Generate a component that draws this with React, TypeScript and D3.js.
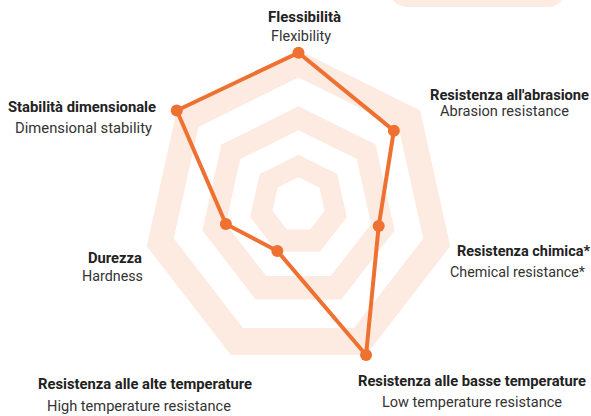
import React from "react";
import * as d3 from "d3";

// ---- data ----
const axesIt = [
  "Flessibilità",
  "Resistenza all'abrasione",
  "Resistenza chimica*",
  "Resistenza alle basse temperature",
  "Resistenza alle alte temperature",
  "Durezza",
  "Stabilità dimensionale",
];
const axesEn = [
  "Flexibility",
  "Abrasion resistance",
  "Chemical resistance*",
  "Low temperature resistance",
  "High temperature resistance",
  "Hardness",
  "Dimensional stability",
];
const values = [5.9, 4.7, 3.17, 6, 1.88, 2.87, 6];
const maxValue = 6;
const bandLevels: [number, number][] = [
  [4.93, 6],
  [2.87, 3.8],
  [1.03, 1.91],
];

// ---- layout ----
const W = 591;
const H = 416;
const CX = 298.5;
const CY0 = 203.5;
const DRIFT = 0.045;
const SY = 1.03;
const R = 155.7;
const ORANGE = "#EF7131";
const PEACH = "#FDEBE1";

// label layout: [centerX1, baseline1, width1, centerX2, baseline2, width2]
const labelLayout: [number, number, number, number, number, number][] = [
  [304.5, 22, 73, 301, 41, 60],
  [509.5, 100, 159, 504.5, 116, 129],
  [523.5, 256, 133, 517.5, 277, 135],
  [472, 386, 228, 472, 407, 180],
  [145, 389, 214, 139, 411, 184],
  [115, 263, 54, 112.5, 281, 61],
  [82, 112, 148, 83.5, 133, 137],
];

const rScale = d3.scaleLinear().domain([0, maxValue]).range([0, R]);
const angle = (i: number) => -Math.PI / 2 + (i * 2 * Math.PI) / axesIt.length;
const proj = (i: number, v: number): [number, number] => {
  const r = rScale(v);
  const a = angle(i);
  return [CX + r * Math.cos(a), CY0 + DRIFT * r + SY * r * Math.sin(a)];
};

const ringPath = (v: number) => {
  const line = d3.line<number>()
    .x((_, i) => proj(i, v)[0])
    .y((_, i) => proj(i, v)[1])
    .curve(d3.curveLinearClosed);
  return line(axesIt.map((_, i) => i)) as string;
};

export default function App() {
  const dataLine = d3
    .line<number>()
    .x((v, i) => proj(i, v)[0])
    .y((v, i) => proj(i, v)[1])
    .curve(d3.curveLinearClosed)(values) as string;

  return (
    <svg
      width={W}
      height={H}
      style={{ position: "absolute", left: 0, top: 0, background: "#fff" }}
      fontFamily="Roboto, 'Noto Sans', sans-serif"
    >
      <rect x={390} y={-25} width={175} height={32} rx={17} fill={PEACH} />
      {bandLevels.map(([a, b], k) => (
        <path key={k} d={ringPath(b) + ringPath(a)} fill={PEACH} fillRule="evenodd" />
      ))}
      <path d={dataLine} fill="none" stroke={ORANGE} strokeWidth={4} strokeLinejoin="round" />
      {values.map((v, i) => {
        const [x, y] = proj(i, v);
        return <circle key={i} cx={x} cy={y} r={6} fill={ORANGE} />;
      })}
      {axesIt.map((t, i) => {
        const [x1, b1, w1, x2, b2, w2] = labelLayout[i];
        return (
          <g key={i} textAnchor="middle" fontSize={14.5}>
            <text x={x1} y={b1} fontWeight="bold" fill="#222" textLength={w1} lengthAdjust="spacingAndGlyphs">
              {t}
            </text>
            <text x={x2} y={b2} fill="#333" textLength={w2} lengthAdjust="spacingAndGlyphs">
              {axesEn[i]}
            </text>
          </g>
        );
      })}
    </svg>
  );
}
